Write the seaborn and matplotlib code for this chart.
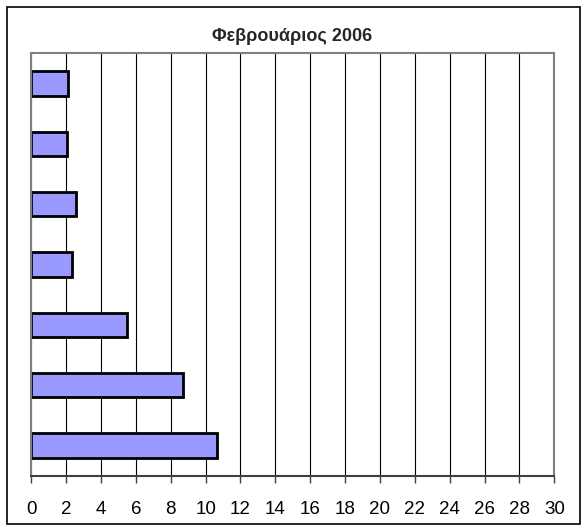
import matplotlib
matplotlib.use("Agg")
import matplotlib.pyplot as plt
import matplotlib.patches as mpatches
import pandas as pd
import seaborn as sns

# values, top bar first
categories = ["1", "2", "3", "4", "5", "6", "7"]
values = [2.1, 2.05, 2.55, 2.33, 5.47, 8.68, 10.64]
x_ticks = list(range(0, 31, 2))
title = "Φεβρουάριος 2006"

sns.set_theme(style="white")
plt.rcParams["font.family"] = ["Liberation Sans", "DejaVu Sans"]

df = pd.DataFrame({"cat": categories, "value": values})

fig = plt.figure(figsize=(5.85, 5.31), dpi=100)
ax = fig.add_axes([0.0535, 0.1041, 0.894, 0.7955])

sns.barplot(data=df, x="value", y="cat", orient="h", color="#9999FF",
            saturation=1, width=0.4, edgecolor="black", linewidth=2, ax=ax)

ax.set_xlim(0, 30)
ax.set_ylim(6.5, -0.5)
ax.set_xticks(x_ticks)
ax.set_xticklabels([str(t) for t in x_ticks], fontsize=13.5)
ax.set_yticks([])
ax.set_xlabel("")
ax.set_ylabel("")
ax.set_axisbelow(True)
ax.grid(axis="x", color="black", linewidth=0.8)
ax.grid(axis="y", visible=False)

for side in ["left", "top", "right"]:
    ax.spines[side].set_color("#808080")
    ax.spines[side].set_linewidth(1.5)
ax.spines["bottom"].set_color("#404040")
ax.spines["bottom"].set_linewidth(1.5)
ax.tick_params(axis="x", bottom=True, length=5, width=1, color="#404040",
               pad=13, colors="black")

fig.text(0.5, 0.932, title, ha="center", va="center", fontsize=13,
         fontweight="bold")

# outer chart border
fig.patches.append(mpatches.Rectangle((7 / 585, 1 - 524 / 531), 573 / 585, 517 / 531,
                                      transform=fig.transFigure, fill=False,
                                      edgecolor="black", linewidth=1.2))

fig.savefig("out.png", dpi=100)
plt.close()
